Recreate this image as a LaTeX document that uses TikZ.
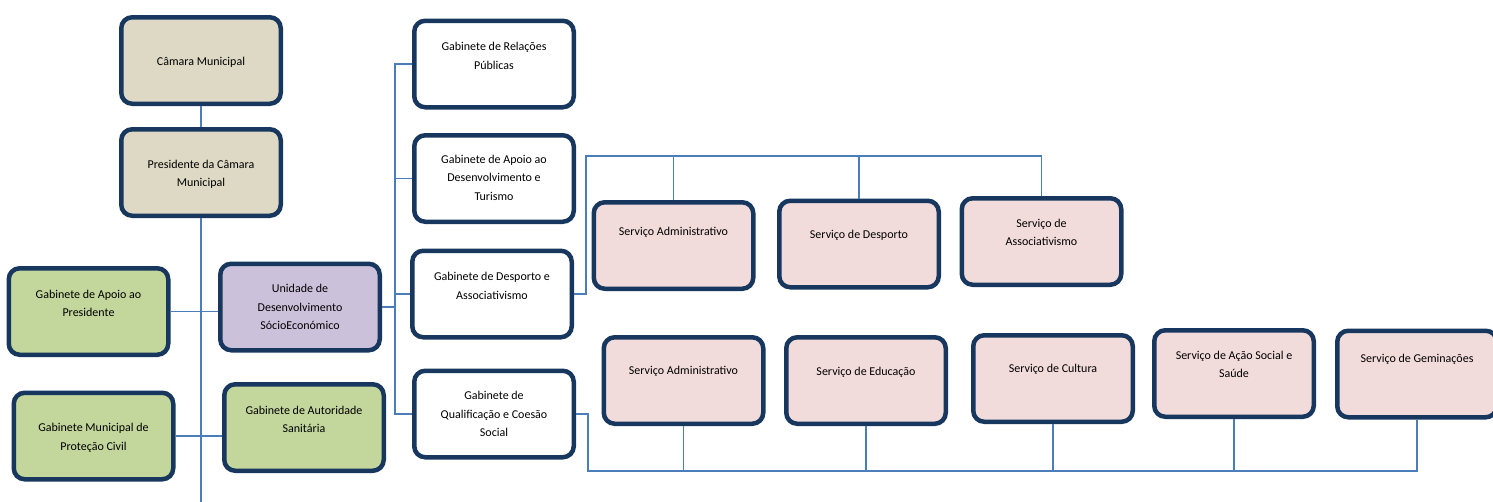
\documentclass[tikz,border=0pt]{standalone}
\usepackage{fontspec}
\setmainfont{Carlito}
\usepackage{tikz}
\definecolor{navy}{HTML}{17375E}
\definecolor{linecol}{HTML}{4A7EBB}
\definecolor{beige}{HTML}{DDD9C4}
\definecolor{leaf}{HTML}{C3D69B}
\definecolor{lilac}{HTML}{CCC1DA}
\definecolor{rose}{HTML}{F2DCDB}
\newcommand{\bt}[2]{\parbox[c][80pt][t]{150pt}{\centering\vspace*{#1pt}\strut #2}}

\begin{document}
\begin{tikzpicture}[x=1pt,y=-1pt,
	box/.style={draw=navy,line width=4.5pt,rounded corners=11pt,minimum width=159.5pt,minimum height=86.5pt,inner sep=0pt,font=\fontsize{12}{18.5}\selectfont},
	link/.style={draw=linecol,line width=1.4pt}]
	\useasboundingbox (0,0) rectangle (1493,501);
%	left column
	\node[box,fill=beige] (cam) at (201,60.5) {\bt{32}{Câmara Municipal}};
	\node[box,fill=beige] (pres) at (201,172.5) {\bt{23}{Presidente da Câmara\\Municipal}};
	\node[box,fill=leaf] (gap) at (88.5,311.5) {\bt{14}{Gabinete de Apoio ao\\Presidente}};
	\node[box,fill=lilac] (ude) at (300,307) {\bt{13}{Unidade de\\Desenvolvimento\\SócioEconómico}};
	\node[box,fill=leaf] (gpc) at (93.5,436) {\bt{23}{Gabinete Municipal de\\Proteção Civil}};
	\node[box,fill=leaf] (gas) at (304,427.5) {\bt{14}{Gabinete de Autoridade\\Sanitária}};
%	gabinetes
	\node[box,fill=white] (grp) at (494,64) {\bt{14}{Gabinete de Relações\\Públicas}};
	\node[box,fill=white] (gad) at (494,178.5) {\bt{12}{Gabinete de Apoio ao\\Desenvolvimento e\\Turismo}};
	\node[box,fill=white] (gda) at (492,294) {\bt{14}{Gabinete de Desporto e\\Associativismo}};
	\node[box,fill=white] (gqc) at (494,414) {\bt{13}{Gabinete de\\Qualificação e Coesão\\Social}};
%	servicos
	\node[box,fill=rose] (sa1) at (673.5,245.5) {\bt{17}{Serviço Administrativo}};
	\node[box,fill=rose] (sdp) at (859,244) {\bt{22}{Serviço de Desporto}};
	\node[box,fill=rose] (sas) at (1041.5,241.5) {\bt{13}{Serviço de\\Associativismo}};
	\node[box,fill=rose] (sa2) at (683.5,380.5) {\bt{21}{Serviço Administrativo}};
	\node[box,fill=rose] (sed) at (866,380.5) {\bt{22}{Serviço de Educação}};
	\node[box,fill=rose] (scu) at (1053,378.5) {\bt{21}{Serviço de Cultura}};
	\node[box,fill=rose] (sss) at (1234,373.5) {\bt{13}{Serviço de Ação Social e\\Saúde}};
	\node[box,fill=rose] (sge) at (1417,374) {\bt{16}{Serviço de Geminações}};
	\coordinate (bx) at (395,0);
	\coordinate (tb) at (0,156);
	\coordinate (bb) at (0,471);
	\coordinate (foot) at (0,505);
	\draw[link] (cam.south) -- (pres.north);
	\draw[link] (pres.south) -- (pres.south |- foot);
	\draw[link] (gap.east) -- (gap.east -| ude.west);
	\draw[link] (gpc.east) -- (gpc.east -| gas.west);
	\draw[link] (ude.east) -- (ude.east -| bx);
	\draw[link] (grp.west) -- (grp.west -| bx) |- (gqc.west);
	\draw[link] (gad.west) -- (gad.west -| bx);
	\draw[link] (gda.west) -- (gda.west -| bx);
	\draw[link] (gda.east) -- ++(12,0) |- (sas.north |- tb) -- (sas.north);
	\draw[link] (sa1.north) -- (sa1.north |- tb);
	\draw[link] (sdp.north) -- (sdp.north |- tb);
	\draw[link] (gqc.east) -- ++(12,0) |- (sge.south |- bb) -- (sge.south);
	\foreach \s in {sa2,sed,scu,sss}{
		\draw[link] (\s.south) -- (\s.south |- bb);}
\end{tikzpicture}
\end{document}
